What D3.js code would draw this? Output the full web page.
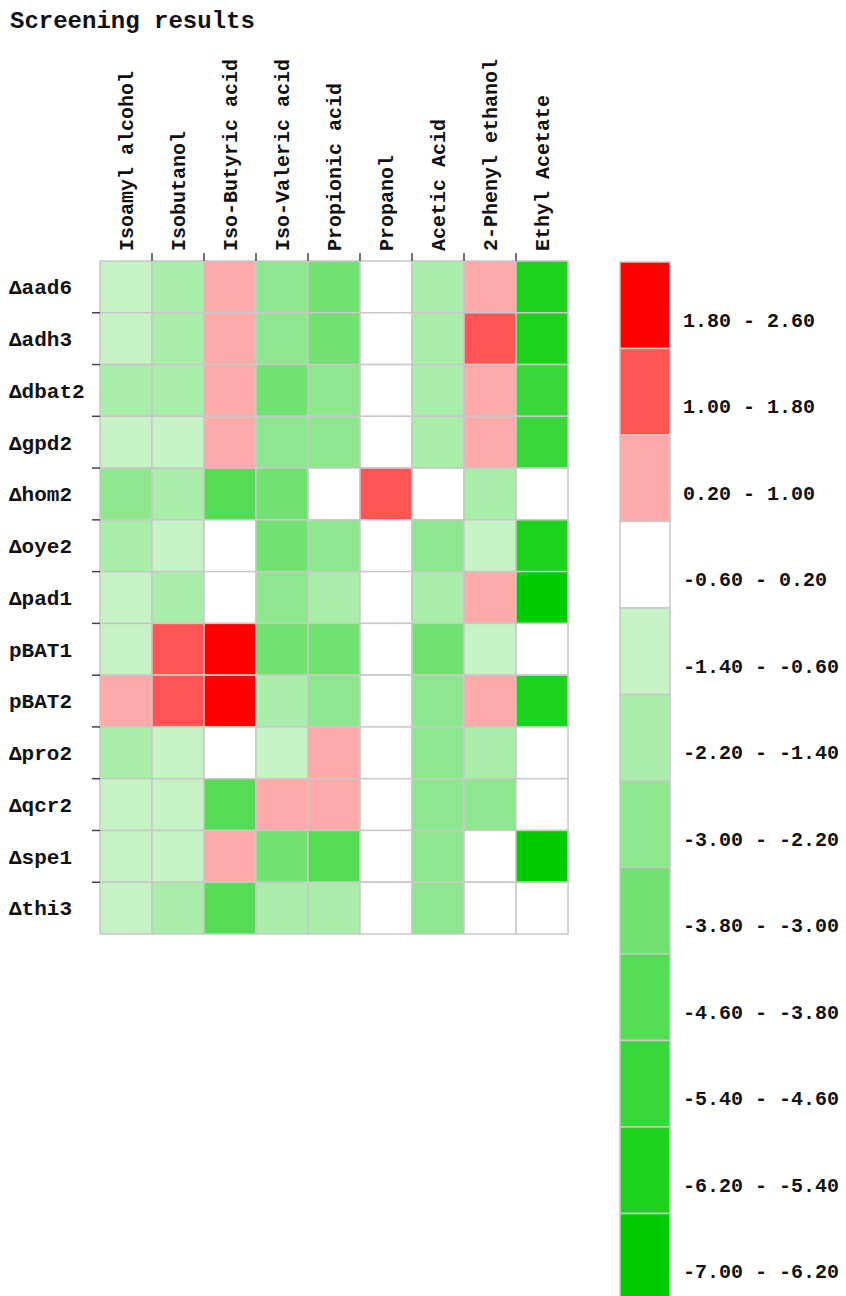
<!DOCTYPE html>
<meta charset="utf-8">
<style>
body {
  margin: 0;
  background-color: #fff;
}
text {
  font-family: "Liberation Mono", "Courier New", monospace;
  font-weight: bold;
  fill: #111;
}
.cell {
  stroke: #c8c8c8;
  stroke-width: 1.5px;
}
.tick-mark {
  stroke: #444;
  stroke-width: 1.5px;
}
</style>
<body>
<svg width="846" height="1296"></svg>
<script src="https://d3js.org/d3.v7.min.js"></script>
<script>
// compounds measured (columns)
var compounds = ["Isoamyl alcohol", "Isobutanol", "Iso-Butyric acid", "Iso-Valeric acid",
  "Propionic acid", "Propanol", "Acetic Acid", "2-Phenyl ethanol", "Ethyl Acetate"];

// strains (rows)
var strains = ["\u0394aad6", "\u0394adh3", "\u0394dbat2", "\u0394gpd2", "\u0394hom2", "\u0394oye2",
  "\u0394pad1", "pBAT1", "pBAT2", "\u0394pro2", "\u0394qcr2", "\u0394spe1", "\u0394thi3"];

// screening values, one row per strain (estimated from the colour bins)
var values = [
  [-1.0, -1.8,  0.6, -2.6, -3.4,  0.0, -1.8,  0.6, -5.8],
  [-1.0, -1.8,  0.6, -2.6, -3.4,  0.0, -1.8,  1.4, -5.8],
  [-1.8, -1.8,  0.6, -3.4, -2.6,  0.0, -1.8,  0.6, -5.0],
  [-1.0, -1.0,  0.6, -2.6, -2.6,  0.0, -1.8,  0.6, -5.0],
  [-2.6, -1.8, -4.2, -3.4,  0.0,  1.4,  0.0, -1.8,  0.0],
  [-1.8, -1.0,  0.0, -3.4, -2.6,  0.0, -2.6, -1.0, -5.8],
  [-1.0, -1.8,  0.0, -2.6, -1.8,  0.0, -1.8,  0.6, -6.6],
  [-1.0,  1.4,  2.2, -3.4, -3.4,  0.0, -3.4, -1.0,  0.0],
  [ 0.6,  1.4,  2.2, -1.8, -2.6,  0.0, -2.6,  0.6, -5.8],
  [-1.8, -1.0,  0.0, -1.0,  0.6,  0.0, -2.6, -1.8,  0.0],
  [-1.0, -1.0, -4.2,  0.6,  0.6,  0.0, -2.6, -2.6,  0.0],
  [-1.0, -1.0,  0.6, -3.4, -4.2,  0.0, -2.6,  0.0, -6.6],
  [-1.0, -1.8, -4.2, -1.8, -1.8,  0.0, -2.6,  0.0,  0.0]
];

// legend bin edges, top to bottom
var binEdges = [2.6, 1.8, 1.0, 0.2, -0.6, -1.4, -2.2, -3.0, -3.8, -4.6, -5.4, -6.2, -7.0];

// colours for each bin, top (red) to bottom (green)
var palette = ["#ff0000", "#ff5555", "#ffaaaa", "#ffffff", "#c6f2c6", "#aaedaa",
  "#8ee78e", "#71e171", "#55dc55", "#39d739", "#1cd21c", "#00cc00"];

var svg = d3.select("svg");

var grid = {left: 100, top: 261, width: 468, height: 673};

var x = d3.scaleBand().domain(compounds).range([grid.left, grid.left + grid.width]);
var y = d3.scaleBand().domain(strains).range([grid.top, grid.top + grid.height]);

// threshold scale: ascending edges -> colours from green to red
var inner = binEdges.slice(1, -1).reverse();
var color = d3.scaleThreshold()
    .domain(inner)
    .range(palette.slice().reverse());

svg.append("text")
    .attr("x", 10)
    .attr("y", 28)
    .style("font-size", "24px")
    .text("Screening results");

var cells = [];
values.forEach(function(row, i) {
  row.forEach(function(v, j) {
    cells.push({strain: strains[i], compound: compounds[j], value: v});
  });
});

svg.append("g").selectAll("rect")
    .data(cells)
    .join("rect")
    .attr("class", "cell")
    .attr("x", function(d) { return x(d.compound); })
    .attr("y", function(d) { return y(d.strain); })
    .attr("width", x.bandwidth())
    .attr("height", y.bandwidth())
    .attr("fill", function(d) { return color(d.value); });

// small tick marks on the inner boundaries
svg.append("g").selectAll("line")
    .data(compounds.slice(1))
    .join("line")
    .attr("class", "tick-mark")
    .attr("x1", function(d) { return x(d); })
    .attr("x2", function(d) { return x(d); })
    .attr("y1", grid.top - 8)
    .attr("y2", grid.top);

svg.append("g").selectAll("line")
    .data(strains.slice(1))
    .join("line")
    .attr("class", "tick-mark")
    .attr("x1", grid.left - 8)
    .attr("x2", grid.left)
    .attr("y1", function(d) { return y(d); })
    .attr("y2", function(d) { return y(d); });

// column labels
svg.append("g").selectAll("text")
    .data(compounds)
    .join("text")
    .attr("transform", function(d) {
      return "translate(" + (x(d) + x.bandwidth() / 2) + "," + (grid.top - 10) + ") rotate(-90)";
    })
    .attr("dy", "0.35em")
    .style("font-size", "20px")
    .text(function(d) { return d; });

// row labels
svg.append("g").selectAll("text")
    .data(strains)
    .join("text")
    .attr("x", 9)
    .attr("y", function(d) { return y(d) + y.bandwidth() / 2; })
    .attr("dy", "0.35em")
    .style("font-size", "21px")
    .text(function(d) { return d; });

// legend
var bins = d3.range(palette.length).map(function(i) {
  return {hi: binEdges[i], lo: binEdges[i + 1], fill: palette[i]};
});

var ly = d3.scaleBand().domain(d3.range(bins.length)).range([262, 262 + 86.5 * bins.length]);

var legend = svg.append("g");

legend.selectAll("rect")
    .data(bins)
    .join("rect")
    .attr("class", "cell")
    .attr("x", 620)
    .attr("y", function(d, i) { return ly(i); })
    .attr("width", 50)
    .attr("height", ly.bandwidth())
    .attr("fill", function(d) { return d.fill; });

legend.selectAll("text")
    .data(bins)
    .join("text")
    .attr("x", 683)
    .attr("y", function(d, i) { return ly(i) + ly.bandwidth() * 0.67; })
    .attr("dy", "0.35em")
    .style("font-size", "20px")
    .text(function(d) { return d.lo.toFixed(2) + " - " + d.hi.toFixed(2); });
</script>
